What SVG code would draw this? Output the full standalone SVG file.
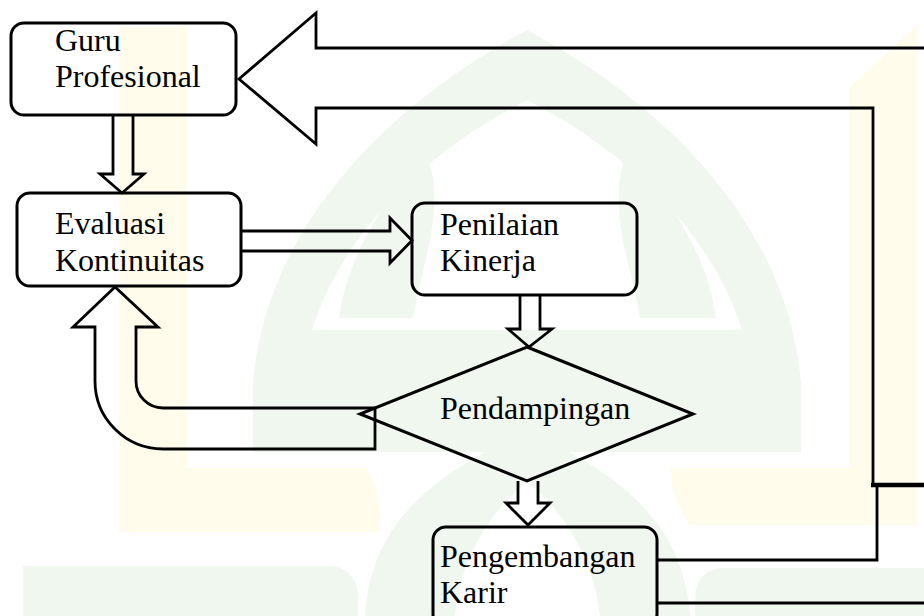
<svg xmlns="http://www.w3.org/2000/svg" width="924" height="616" viewBox="0 0 924 616">
  <style>
    .wm-y { fill: #fffcec; stroke: none; }
    .wm-g { fill: #eff7ef; stroke: none; }
    .box { fill: none; stroke: #000; stroke-width: 3; }
    .flow { fill: none; stroke: #000; stroke-width: 2.8; stroke-linejoin: miter; }
    .line { fill: none; stroke: #000; stroke-width: 2.8; }
    .thick { fill: none; stroke: #000; stroke-width: 4.5; }
    text { font-family: "Liberation Serif", "Times New Roman", serif; font-size: 32px; fill: #000; }
  </style>

  <rect width="924" height="616" fill="#fff"/>

  <!-- faint background emblem -->
  <g id="emblem">
    <path class="wm-g" fill-rule="evenodd" d="M253,452 V385 C262,250 360,120 527,30 C694,120 792,250 801,385 V452 Z M300,452 V390 C310,270 400,165 527,100 C654,165 744,270 754,390 V452 Z"/>
    <path class="wm-g" d="M339,318 C350,240 400,185 424,150 C450,200 420,270 413,318 Z"/>
    <path class="wm-g" d="M716,318 C705,240 655,185 629,150 C603,200 633,270 640,318 Z"/>
    <path class="wm-g" d="M300,330 H754 V452 H300 Z"/>
    <path class="wm-g" fill-rule="evenodd" d="M365,616 C370,520 440,470 527,432 C614,470 684,520 690,616 Z M455,616 C460,560 490,510 527,482 C564,510 594,560 600,616 Z"/>
    <path class="wm-g" d="M23,616 V566 H333 Q358,570 358,600 V616 Z"/>
    <path class="wm-g" d="M924,616 V568 H720 Q695,572 695,600 V616 Z"/>
    <path class="wm-y" d="M119,27 H187 V468 H366 Q382,490 380,532 H119 Z"/>
    <path class="wm-y" d="M917,25 V525 H690 Q672,500 670,468 H849 V88 Z"/>
  </g>

  <!-- nodes -->
  <g id="guru-profesional">
    <rect class="box" x="11" y="23" width="225" height="92" rx="13"/>
    <text x="55" y="51">Guru</text>
    <text x="55" y="87">Profesional</text>
  </g>

  <g id="evaluasi-kontinuitas">
    <rect class="box" x="17" y="193" width="224" height="93" rx="13"/>
    <text x="55" y="234">Evaluasi</text>
    <text x="55" y="271">Kontinuitas</text>
  </g>

  <g id="penilaian-kinerja">
    <rect class="box" x="412" y="203" width="225" height="92" rx="13"/>
    <text x="440" y="235">Penilaian</text>
    <text x="440" y="271">Kinerja</text>
  </g>

  <g id="pendampingan">
    <polygon class="box" points="527,347 693,414 527,481 360,414"/>
    <text x="440" y="419">Pendampingan</text>
  </g>

  <g id="pengembangan-karir">
    <rect class="box" x="433" y="527" width="224" height="100" rx="13"/>
    <text x="440" y="567">Pengembangan</text>
    <text x="440" y="603">Karir</text>
  </g>

  <!-- connectors -->
  <g id="connectors">
    <!-- Guru Profesional -> Evaluasi Kontinuitas -->
    <path class="flow" d="M113,115 V174 H100 L122,193 L144,174 H133 V115"/>
    <!-- Evaluasi Kontinuitas -> Penilaian Kinerja -->
    <path class="flow" d="M241,231 H390 V218 L412,240.5 L390,263 V251 H241"/>
    <!-- Penilaian Kinerja -> Pendampingan -->
    <path class="flow" d="M520,295 V329 H508 L529,347 L552,329 H540 V295"/>
    <!-- Pendampingan -> Pengembangan Karir -->
    <path class="flow" d="M518,481 V503 H506 L528,525 L550,503 H538 V481"/>
    <!-- Pendampingan -> Evaluasi Kontinuitas (return loop) -->
    <path class="flow" d="M375,408 H163 A27,27 0 0 1 136,381 V327 H158 L115,287 L73,327 H95 V381 A68,68 0 0 0 163,449 H375 Z"/>
    <!-- Pengembangan Karir -> Guru Profesional (wide return arrow) -->
    <path class="flow" d="M926,48 H316 V13 L239,79 L316,144 V108 H873 V485"/>
    <path class="thick" d="M871,485 H926"/>
    <path class="line" d="M657,560 H877 V485"/>
    <path class="line" d="M657,603 H926"/>
  </g>
</svg>
